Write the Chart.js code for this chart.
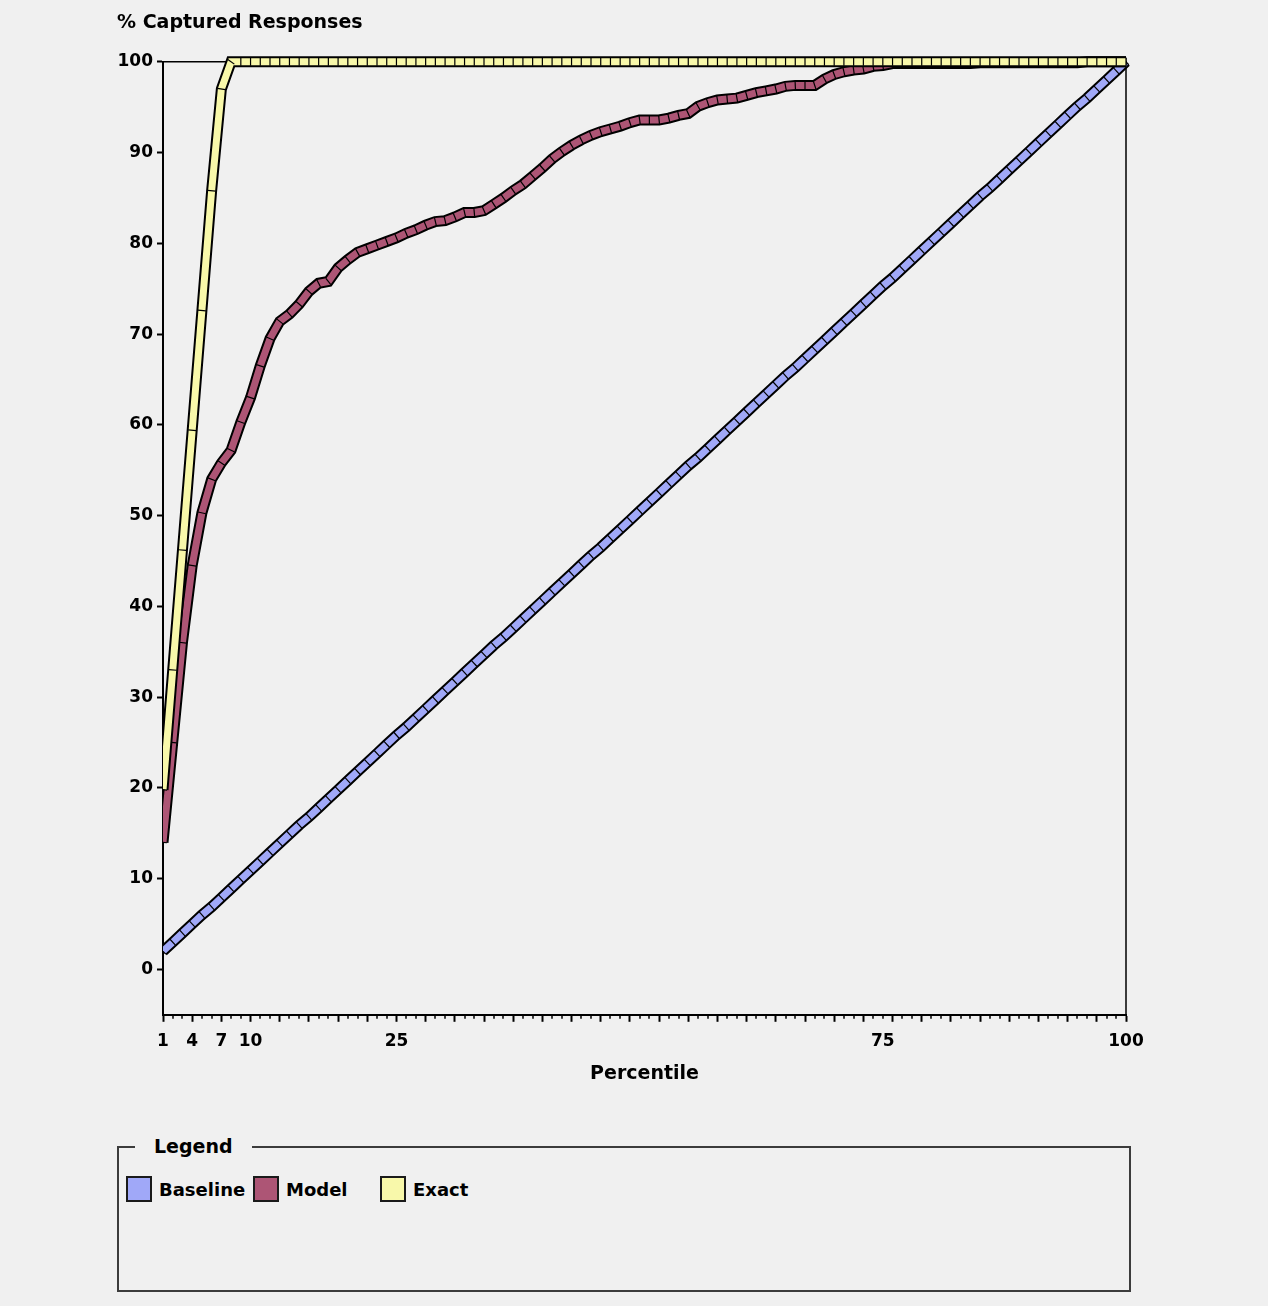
<!DOCTYPE html>
<html>
<head>
<meta charset="utf-8">
<script src="https://cdn.jsdelivr.net/npm/chart.js@4.4.1/dist/chart.umd.min.js"></script>
<style>
  html, body { margin: 0; padding: 0; background: #f0f0f0; }
  body { width: 1268px; height: 1306px; position: relative; overflow: hidden; font-family: "DejaVu Sans", sans-serif; }
  #gain { position: absolute; left: 0; top: 0; }
  #legendBox { position: absolute; left: 117px; top: 1146px; width: 1014px; height: 146px; box-sizing: border-box; border: 2px solid #3c3c3c; }
  #legendTitle { position: absolute; left: 16px; top: -13px; padding: 0 19px; background: #f0f0f0; font-weight: bold; font-size: 19px; line-height: 22px; color: #000; }
  #legendItems { position: absolute; left: 7px; top: 28px; display: flex; }
  .item { display: flex; align-items: center; width: 127px; height: 26px; font-weight: bold; font-size: 18px; color: #000; }
  .swatch { width: 22px; height: 22px; border: 2px solid #1a1a1a; margin-right: 7px; }
</style>
</head>
<body>
<canvas id="gain" width="1268" height="1110"></canvas>
<div id="legendBox">
  <div id="legendTitle">Legend</div>
  <div id="legendItems"></div>
</div>
<script>
// x positions (percentile buckets)
const percentiles = [
  1, 2, 3, 4, 5, 6, 7, 8, 9, 10, 11, 12, 13, 14, 15, 16, 17, 18, 19, 20,
  21, 22, 23, 24, 25, 26, 27, 28, 29, 30, 31, 32, 33, 34, 35, 36, 37, 38, 39, 40,
  41, 42, 43, 44, 45, 46, 47, 48, 49, 50, 51, 52, 53, 54, 55, 56, 57, 58, 59, 60,
  61, 62, 63, 64, 65, 66, 67, 68, 69, 70, 71, 72, 73, 74, 75, 76, 77, 78, 79, 80,
  81, 82, 83, 84, 85, 86, 87, 88, 89, 90, 91, 92, 93, 94, 95, 96, 97, 98, 99, 100
];

// % captured responses
const baseline = [
  2, 3, 4, 5, 6, 6.9, 7.9, 8.9, 9.9, 10.9, 11.9, 12.9, 13.9, 14.9, 15.9, 16.8, 17.8, 18.8, 19.8, 20.8,
  21.8, 22.8, 23.8, 24.8, 25.8, 26.7, 27.7, 28.7, 29.7, 30.7, 31.7, 32.7, 33.7, 34.7, 35.7, 36.6, 37.6, 38.6, 39.6, 40.6,
  41.6, 42.6, 43.6, 44.6, 45.6, 46.5, 47.5, 48.5, 49.5, 50.5, 51.5, 52.5, 53.5, 54.5, 55.5, 56.4, 57.4, 58.4, 59.4, 60.4,
  61.4, 62.4, 63.4, 64.4, 65.4, 66.3, 67.3, 68.3, 69.3, 70.3, 71.3, 72.3, 73.3, 74.3, 75.3, 76.2, 77.2, 78.2, 79.2, 80.2,
  81.2, 82.2, 83.2, 84.2, 85.2, 86.1, 87.1, 88.1, 89.1, 90.1, 91.1, 92.1, 93.1, 94.1, 95.1, 96, 97, 98, 99, 100
];
const model = [
  14, 25, 36, 44.5, 50.3, 54, 55.8, 57.2, 60.3, 63, 66.5, 69.5, 71.4, 72.2, 73.3, 74.7, 75.6, 75.8, 77.3, 78.2,
  79, 79.4, 79.8, 80.2, 80.6, 81.1, 81.5, 82, 82.4, 82.5, 82.9, 83.4, 83.4, 83.6, 84.3, 85, 85.8, 86.5, 87.4, 88.3,
  89.3, 90.1, 90.8, 91.4, 91.9, 92.3, 92.6, 92.9, 93.3, 93.6, 93.6, 93.6, 93.8, 94.1, 94.3, 95.1, 95.5, 95.8, 95.9, 96,
  96.3, 96.6, 96.8, 97, 97.3, 97.4, 97.4, 97.4, 98.1, 98.6, 98.9, 99.1, 99.2, 99.5, 99.6, 99.8, 99.8, 99.8, 99.8, 99.8,
  99.8, 99.8, 99.8, 99.8, 99.9, 99.9, 99.9, 99.9, 99.9, 99.9, 99.9, 99.9, 99.9, 99.9, 99.9, 100, 100, 100, 100, 100
];
const exact = [
  19.8, 33, 46.2, 59.4, 72.6, 85.8, 97, 100, 100, 100, 100, 100, 100, 100, 100, 100, 100, 100, 100, 100,
  100, 100, 100, 100, 100, 100, 100, 100, 100, 100, 100, 100, 100, 100, 100, 100, 100, 100, 100, 100,
  100, 100, 100, 100, 100, 100, 100, 100, 100, 100, 100, 100, 100, 100, 100, 100, 100, 100, 100, 100,
  100, 100, 100, 100, 100, 100, 100, 100, 100, 100, 100, 100, 100, 100, 100, 100, 100, 100, 100, 100,
  100, 100, 100, 100, 100, 100, 100, 100, 100, 100, 100, 100, 100, 100, 100, 100, 100, 100, 100, 100
];

const seriesNames = ['Baseline', 'Model', 'Exact'];
const seriesColors = ['#a0a8f8', '#ad5575', '#f8f8aa'];
const yTicks = [0, 10, 20, 30, 40, 50, 60, 70, 80, 90, 100];
const xTickLabels = [1, 4, 7, 10, 25, 75, 100];

const labelFont = { family: 'DejaVu Sans', size: 17, weight: 'bold' };
const titleFont = { family: 'DejaVu Sans', size: 19, weight: 'bold' };
const lineClip = { left: 0, top: 7, right: 7, bottom: 7 };

function points(vals) {
  return percentiles.map((p, i) => ({ x: p, y: vals[i] }));
}

// little black divider across the line at every point
function dividerAngle(ctx) {
  const d = ctx.dataset.data, i = ctx.dataIndex;
  const xs = ctx.chart.scales.x, ys = ctx.chart.scales.y;
  const a = d[Math.max(i - 1, 0)], b = d[Math.min(i + 1, d.length - 1)];
  const dx = xs.getPixelForValue(b.x) - xs.getPixelForValue(a.x);
  const dy = ys.getPixelForValue(b.y) - ys.getPixelForValue(a.y);
  return Math.atan2(dy, dx) * 180 / Math.PI + 90;
}

function edge(vals) {
  return {
    data: points(vals),
    borderColor: '#000',
    borderWidth: 11,
    borderJoinStyle: 'miter',
    pointRadius: 0,
    tension: 0,
    clip: lineClip
  };
}

function line(name, vals, color) {
  return {
    label: name,
    data: points(vals),
    borderColor: color,
    borderWidth: 7,
    borderJoinStyle: 'miter',
    tension: 0,
    clip: lineClip,
    pointStyle: 'line',
    pointRadius: 4,
    pointBorderWidth: 1.2,
    pointBorderColor: '#000',
    pointRotation: dividerAngle
  };
}

// first in list is drawn on top
const datasets = [
  line(seriesNames[2], exact, seriesColors[2]), edge(exact),
  line(seriesNames[1], model, seriesColors[1]), edge(model),
  line(seriesNames[0], baseline, seriesColors[0]), edge(baseline)
];

const frame = {
  id: 'frame',
  beforeDatasetsDraw(chart) {
    const ctx = chart.ctx, a = chart.chartArea, xs = chart.scales.x;
    ctx.save();
    ctx.strokeStyle = '#000';
    ctx.lineWidth = 1.5;
    ctx.beginPath();
    ctx.moveTo(a.left, a.top);
    ctx.lineTo(a.right, a.top);
    ctx.lineTo(a.right, a.bottom);
    // minor ticks between the major ones
    percentiles.forEach(p => {
      if ((p - 1) % 3 !== 0) {
        const x = Math.round(xs.getPixelForValue(p));
        ctx.moveTo(x, a.bottom);
        ctx.lineTo(x, a.bottom + 4);
      }
    });
    ctx.stroke();
    ctx.restore();
  }
};

const chart = new Chart(document.getElementById('gain'), {
  type: 'line',
  data: { datasets: datasets },
  options: {
    responsive: false,
    animation: false,
    devicePixelRatio: 1,
    events: [],
    layout: { padding: { left: 117, right: 142, top: 0, bottom: 25 } },
    plugins: {
      legend: { display: false },
      tooltip: { enabled: false },
      title: {
        display: true,
        text: '% Captured Responses',
        align: 'start',
        color: '#000',
        font: titleFont,
        padding: { top: 12, bottom: 27 }
      }
    },
    scales: {
      x: {
        type: 'linear',
        min: 1,
        max: 100,
        afterBuildTicks: s => { s.ticks = percentiles.map(v => ({ value: v })); },
        grid: {
          drawOnChartArea: false,
          tickLength: 7,
          tickWidth: 2,
          tickColor: c => ((c.tick.value - 1) % 3 === 0 ? '#000' : 'rgba(0,0,0,0)')
        },
        border: { color: '#000', width: 2 },
        ticks: {
          autoSkip: false,
          maxRotation: 0,
          minRotation: 0,
          padding: 10,
          color: '#000',
          font: labelFont,
          callback: v => (xTickLabels.includes(v) ? String(v) : '')
        },
        title: { display: true, text: 'Percentile', color: '#000', font: titleFont, padding: { top: 0, bottom: 0 } }
      },
      y: {
        min: -5,
        max: 100,
        afterBuildTicks: s => { s.ticks = yTicks.map(v => ({ value: v })); },
        afterFit: s => { s.width = 46; },
        grid: { drawOnChartArea: false, tickLength: 6, tickWidth: 2, tickColor: '#000' },
        border: { color: '#000', width: 2 },
        ticks: { padding: 4, color: '#000', font: labelFont }
      }
    }
  },
  plugins: [frame]
});

// legend box under the chart
const box = document.getElementById('legendItems');
seriesNames.forEach((name, i) => {
  const item = document.createElement('div');
  item.className = 'item';
  const sw = document.createElement('span');
  sw.className = 'swatch';
  sw.style.background = seriesColors[i];
  item.appendChild(sw);
  item.appendChild(document.createTextNode(name));
  box.appendChild(item);
});
</script>
</body>
</html>
